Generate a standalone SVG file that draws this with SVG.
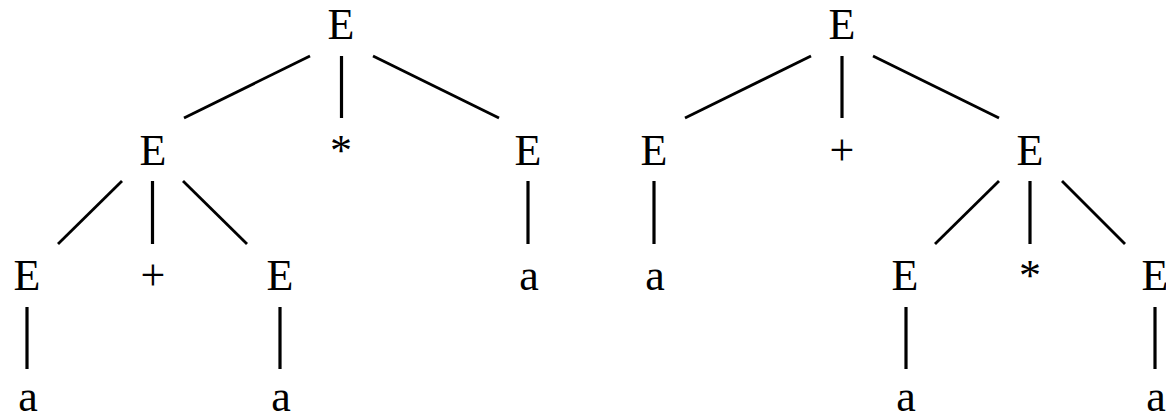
<svg xmlns="http://www.w3.org/2000/svg" width="1166" height="415" viewBox="0 0 1166 415">
<style>
text{font-family:'Liberation Serif','Times New Roman',serif;font-size:44px;fill:#000;text-anchor:middle}
line{stroke:#000;stroke-width:2.8;stroke-linecap:butt}
.v{stroke-width:3.2}
</style>
<rect width="1166" height="415" fill="#fff"/>
<g id="connectors">
<line x1="310" y1="56" x2="184" y2="118"/>
<line class="v" x1="341.5" y1="56" x2="341.5" y2="118"/>
<line x1="373" y1="56" x2="499" y2="118"/>
<line x1="122" y1="181" x2="58" y2="244"/>
<line class="v" x1="152.5" y1="181" x2="152.5" y2="244"/>
<line x1="183" y1="181" x2="247" y2="244"/>
<line class="v" x1="528" y1="181" x2="528" y2="244"/>
<line class="v" x1="27" y1="307" x2="27" y2="369"/>
<line class="v" x1="280" y1="307" x2="280" y2="369"/>
<line x1="811" y1="56" x2="685" y2="118"/>
<line class="v" x1="842" y1="56" x2="842" y2="118"/>
<line x1="873" y1="56" x2="999" y2="118"/>
<line class="v" x1="654" y1="181" x2="654" y2="244"/>
<line x1="999" y1="181" x2="935" y2="244"/>
<line class="v" x1="1030" y1="181" x2="1030" y2="244"/>
<line x1="1062" y1="181" x2="1125" y2="244"/>
<line class="v" x1="906" y1="307" x2="906" y2="369"/>
<line class="v" x1="1155" y1="307" x2="1155" y2="369"/>
</g>
<g id="L_root"><text x="341" y="39">E</text></g>
<g id="L_E1"><text x="153" y="165">E</text></g>
<g id="L_star"><text x="341" y="165">*</text></g>
<g id="L_E2"><text x="528" y="165">E</text></g>
<g id="L_E11"><text x="27" y="290">E</text></g>
<g id="L_plus"><text x="153" y="290">+</text></g>
<g id="L_E12"><text x="280" y="290">E</text></g>
<g id="L_a2"><text x="529" y="290">a</text></g>
<g id="L_a11"><text x="28" y="411">a</text></g>
<g id="L_a12"><text x="281" y="411">a</text></g>
<g id="R_root"><text x="842" y="39">E</text></g>
<g id="R_E1"><text x="654" y="165">E</text></g>
<g id="R_plus"><text x="842" y="165">+</text></g>
<g id="R_E2"><text x="1030" y="165">E</text></g>
<g id="R_a1"><text x="655" y="290">a</text></g>
<g id="R_E21"><text x="905" y="290">E</text></g>
<g id="R_star"><text x="1030" y="290">*</text></g>
<g id="R_E22"><text x="1155" y="290">E</text></g>
<g id="R_a21"><text x="906" y="411">a</text></g>
<g id="R_a22"><text x="1156" y="411">a</text></g>
</svg>
